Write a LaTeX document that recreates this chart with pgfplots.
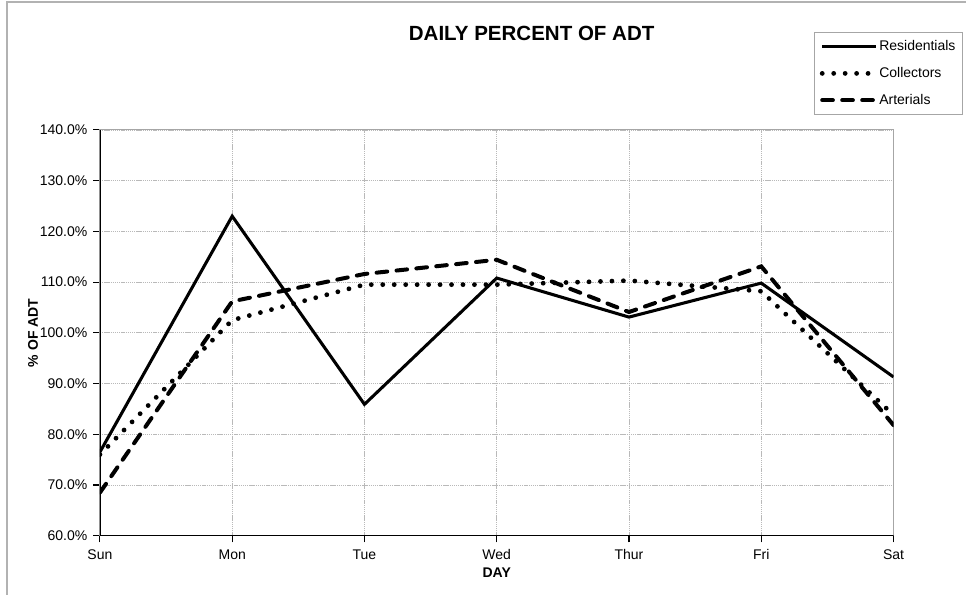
\documentclass[border=0pt]{standalone}
\usepackage{fontspec}
\setmainfont{Liberation Sans}
\usepackage{pgfplots}
\pgfplotsset{compat=1.18}

\pgfplotsset{
  resline/.style={black, line width=2.3pt, line join=miter},
  colline/.style={black, line width=3.6pt, line cap=round, dash pattern=on 0pt off 8.6pt},
  artline/.style={black, line width=3pt, line cap=round, dash pattern=on 8pt off 7pt},
}

\begin{document}
\begin{tikzpicture}
\path (0,0) rectangle (725.25pt,446.25pt);
\draw[gray!60, line width=0.8pt] (5.25pt,0) -- (5.25pt,444.75pt) -- (725.25pt,444.75pt);
\begin{axis}[
  at={(75pt,44.25pt)}, anchor=south west,
  scale only axis, width=595.5pt, height=304.5pt,
  xmin=0, xmax=6, ymin=60, ymax=140,
  xtick={0,...,6},
  xticklabels={Sun,Mon,Tue,Wed,Thur,Fri,Sat},
  ytick={60,70,...,140},
  yticklabel={\pgfmathprintnumber[fixed,fixed zerofill,precision=1]{\tick}\%},
  /pgf/number format/assume math mode=true,
  tick label style={font=\fontsize{10.5}{12}\selectfont, black},
  xticklabel style={yshift=-2pt},
  yticklabel style={xshift=-1pt},
  tick align=outside, major tick length=5pt,
  xtick pos=left, ytick pos=left,
  tick style={black, line width=0.8pt},
  grid=major,
  grid style={gray!55, line width=0.6pt, dash pattern=on 1pt off 0.6pt},
  axis line style={gray!70, line width=0.8pt},
  title={DAILY PERCENT OF ADT},
  title style={font=\fontsize{15.4}{18}\selectfont\bfseries, at={(0.544,1.217)}, anchor=center},
  xlabel={DAY},
  xlabel style={font=\fontsize{10.5}{12}\selectfont\bfseries, at={(0.5,-0.091)}, anchor=center},
  ylabel={\% OF ADT},
  ylabel style={font=\fontsize{10.5}{12}\selectfont\bfseries, at={(-0.0844,0.5)}, anchor=center, rotate=0},
  legend style={at={(1.087,1.241)}, anchor=north east, draw=gray!70, line width=0.6pt,
    font=\fontsize{10.5}{12}\selectfont, row sep=7pt, inner xsep=4pt, inner ysep=4pt,
    nodes={inner xsep=1pt}},
  legend cell align=left,
  legend image code/.code={\draw[#1] (0pt,0pt) -- (40pt,0pt);},
]
\addplot[resline] coordinates {(0,76.5)(1,123.0)(2,85.9)(3,110.8)(4,103.1)(5,109.8)(6,91.3)};
\addlegendentry{Residentials}
\addplot[colline] coordinates {(0,76.0)(1,102.5)(2,109.5)(3,109.5)(4,110.3)(5,108.2)(6,83.8)};
\addlegendentry{Collectors}
\addplot[artline] coordinates {(0,68.5)(1,106.2)(2,111.6)(3,114.4)(4,104.1)(5,113.1)(6,81.8)};
\addlegendentry{Arterials}
\draw[black, line width=1.6pt] (rel axis cs:0,1) -- (rel axis cs:0,0) -- (rel axis cs:1,0);
\end{axis}
\end{tikzpicture}
\end{document}
